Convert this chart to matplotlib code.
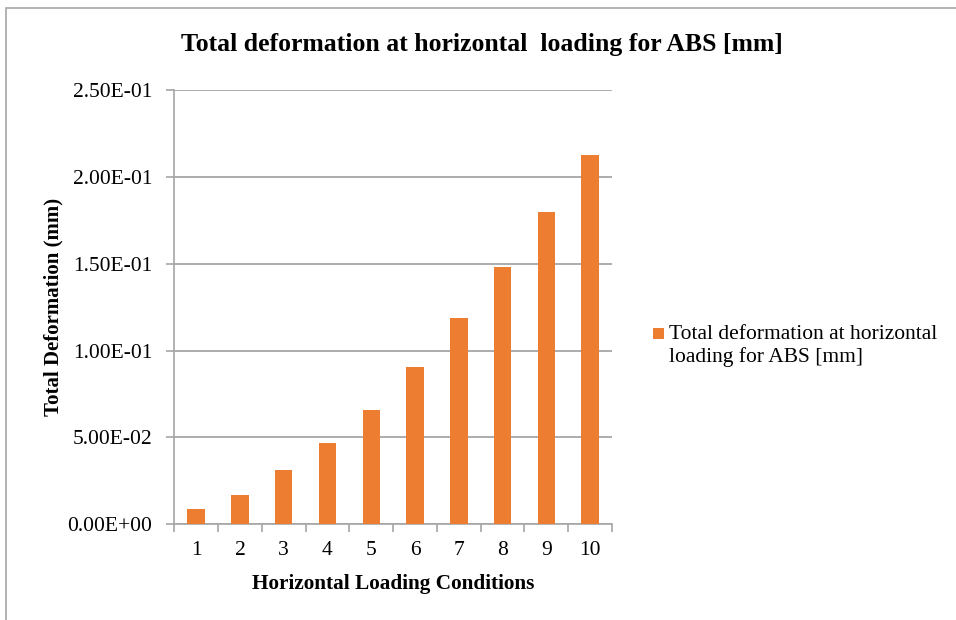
import numpy as np
import matplotlib
matplotlib.use('Agg')
import matplotlib.pyplot as plt
from matplotlib.patches import Rectangle
from matplotlib.container import BarContainer
from matplotlib.legend_handler import HandlerPatch, update_from_first_child

plt.rcParams['font.family'] = ['Liberation Serif', 'DejaVu Serif']

# data
conditions = ['1', '2', '3', '4', '5', '6', '7', '8', '9', '10']
deformation = [0.0086, 0.0171, 0.0312, 0.0468, 0.0660, 0.0904, 0.1188, 0.1479, 0.1800, 0.2128]
series_name = 'Total deformation at horizontal\nloading for ABS [mm]'
title = 'Total deformation at horizontal  loading for ABS [mm]'

W, H = 956, 620
fig = plt.figure(figsize=(W / 100, H / 100), dpi=100)

# outer chart frame (only top and left edges visible in the reference)
fig.add_artist(Rectangle((6 / W, -0.05), 1.2, (H - 8) / H + 0.05, transform=fig.transFigure,
                         fill=False, edgecolor='#a6a6a6', linewidth=1.2))

ax = fig.add_axes([174.3 / W, (H - 524.3) / H, (612 - 174.3) / W, (524.3 - 90) / H])

x = np.arange(1, len(conditions) + 1)
bars = ax.bar(x, deformation, width=0.4, color='#ED7D31', label=series_name, zorder=3)

ax.set_xlim(0.5, 10.5)
ax.set_ylim(0, 0.25)
yt = np.arange(0, 0.2501, 0.05)
ax.set_yticks(yt)
ax.set_yticklabels(['%.2E' % v for v in yt], fontsize=15.5)
ax.yaxis.grid(True, color='#a6a6a6', linewidth=1.3, zorder=0)

# ticks at category boundaries, labels centred under the bars
ax.set_xticks(np.arange(0.5, 11, 1))
ax.set_xticklabels([])
ax.set_xticks(x, minor=True)
ax.set_xticklabels(conditions, minor=True, fontsize=15.5)
ax.tick_params(axis='x', which='major', length=6, color='#a6a6a6', width=1.2)
ax.tick_params(axis='x', which='minor', length=0, pad=12)
ax.tick_params(axis='y', length=6, color='#a6a6a6', width=1.2, pad=10)

for s in ['top', 'right']:
    ax.spines[s].set_visible(False)
for s in ['left', 'bottom']:
    ax.spines[s].set_color('#a6a6a6')
    ax.spines[s].set_linewidth(1.2)

ax.set_xlabel('Horizontal Loading Conditions', fontsize=15.3, fontweight='bold', labelpad=10)
ax.set_ylabel('Total Deformation (mm)', fontsize=15, fontweight='bold', labelpad=3)

fig.text(482 / W, 1 - 45 / H, title, fontsize=18.5, fontweight='bold', ha='center', va='center')


# square legend key aligned with the first line of the label
def top_square(legend, orig_handle, xdescent, ydescent, width, height, fontsize):
    return Rectangle((-xdescent, -ydescent + height - width - 0.02 * fontsize), width, width)


fs = 15.5
fig.legend(handles=[bars], labels=[series_name], loc='upper left',
           bbox_to_anchor=(653 / W, 1 - 325 / H), frameon=False, fontsize=fs,
           handlelength=0.51, handleheight=2.3, handletextpad=0.23, borderpad=0,
           borderaxespad=0,
           handler_map={BarContainer: HandlerPatch(patch_func=top_square,
                                                   update_func=update_from_first_child)})

fig.savefig('out.png', dpi=100)
